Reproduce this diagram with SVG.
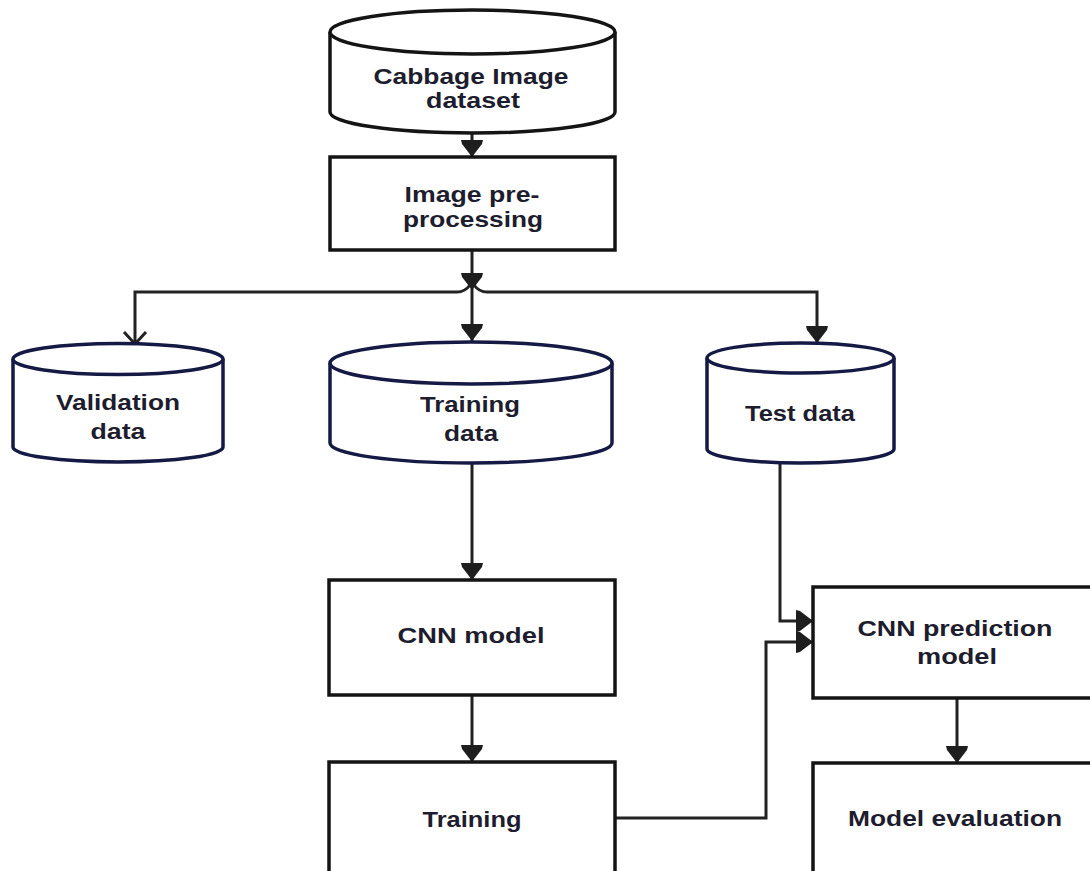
<svg xmlns="http://www.w3.org/2000/svg" width="1090" height="871" viewBox="0 0 1090 871">
  <style>
    .box { fill: #ffffff; stroke: #141414; stroke-width: 3.5; }
    .cyl { fill: #ffffff; stroke: #151a45; stroke-width: 3.5; }
    .cyl-k { fill: #ffffff; stroke: #141414; stroke-width: 3.5; }
    .lbl { font-family: "Liberation Sans", Arial, sans-serif; font-size: 21.5px; font-weight: bold; fill: #1d1d2e; text-anchor: middle; }
    .edge { fill: none; stroke: #222222; stroke-width: 3; }
  </style>
  <defs>
    <!-- filled head: 17 long, 22 wide, slightly shouldered -->
    <marker id="tri" markerUnits="userSpaceOnUse" markerWidth="19" markerHeight="24" viewBox="0 0 19 24" refX="18" refY="12" orient="auto">
      <path d="M1,1 L5,2 L18,12 L5,22 L1,23 Z" fill="#1e1e1e"/>
    </marker>
    <marker id="vee" markerUnits="userSpaceOnUse" markerWidth="16" markerHeight="26" viewBox="0 0 16 26" refX="14" refY="13" orient="auto">
      <path d="M2,2 L14,13 L2,24" fill="none" stroke="#222222" stroke-width="3"/>
    </marker>
  </defs>

  <!-- connectors -->
  <g id="connectors">
    <path class="edge" d="M472,133 L472,157" marker-end="url(#tri)"/>
    <path class="edge" d="M472,250 L472,341" marker-end="url(#tri)"/>
    <path d="M461,273 L483,273 L482,277 L472,290 L462,277 Z" fill="#1e1e1e"/>
    <path class="edge" d="M470,285 Q465,292 457,292 L135,292 L135,344" marker-end="url(#vee)"/>
    <path class="edge" d="M474,285 Q479,292 487,292 L817,292 L817,343" marker-end="url(#tri)"/>
    <path class="edge" d="M472,463 L472,580" marker-end="url(#tri)"/>
    <path class="edge" d="M472,695 L472,762" marker-end="url(#tri)"/>
    <path class="edge" d="M780,463 L780,621 L813,621" marker-end="url(#tri)"/>
    <path class="edge" d="M615,818 L766,818 L766,642 L813,642" marker-end="url(#tri)"/>
    <path class="edge" d="M957,698 L957,763" marker-end="url(#tri)"/>
  </g>

  <!-- Cabbage Image dataset -->
  <g id="dataset">
    <path class="cyl-k" d="M330,32 L330,112 A142.5,21 0 0 0 615,112 L615,32"/>
    <ellipse class="cyl-k" cx="472.5" cy="32" rx="142.5" ry="22"/>
    <text class="lbl" x="471" y="84" textLength="195" lengthAdjust="spacingAndGlyphs">Cabbage Image</text>
    <text class="lbl" x="473" y="108" textLength="94" lengthAdjust="spacingAndGlyphs">dataset</text>
  </g>

  <!-- Image pre-processing -->
  <g id="preprocessing">
    <rect class="box" x="330" y="157" width="285" height="93"/>
    <text class="lbl" x="472" y="202" textLength="135" lengthAdjust="spacingAndGlyphs">Image pre-</text>
    <text class="lbl" x="473" y="227" textLength="140" lengthAdjust="spacingAndGlyphs">processing</text>
  </g>

  <!-- Validation data -->
  <g id="validation">
    <path class="cyl" d="M13,359 L13,447 A105,15 0 0 0 223,447 L223,359"/>
    <ellipse class="cyl" cx="118" cy="359" rx="105" ry="15.5"/>
    <text class="lbl" x="118" y="410" textLength="124" lengthAdjust="spacingAndGlyphs">Validation</text>
    <text class="lbl" x="118" y="439" textLength="55" lengthAdjust="spacingAndGlyphs">data</text>
  </g>

  <!-- Training data -->
  <g id="training-data">
    <path class="cyl" d="M330,363 L330,443 A141,20 0 0 0 612,443 L612,363"/>
    <ellipse class="cyl" cx="471" cy="363" rx="141" ry="21"/>
    <text class="lbl" x="470" y="412" textLength="100" lengthAdjust="spacingAndGlyphs">Training</text>
    <text class="lbl" x="471" y="441" textLength="54" lengthAdjust="spacingAndGlyphs">data</text>
  </g>

  <!-- Test data -->
  <g id="test-data">
    <path class="cyl" d="M707,358 L707,449 A93.5,14 0 0 0 894,449 L894,358"/>
    <ellipse class="cyl" cx="800.5" cy="358" rx="93.5" ry="15"/>
    <text class="lbl" x="800" y="421" textLength="110" lengthAdjust="spacingAndGlyphs">Test data</text>
  </g>

  <!-- CNN model -->
  <g id="cnn-model">
    <rect class="box" x="329" y="580" width="286" height="115"/>
    <text class="lbl" x="471" y="643" textLength="147" lengthAdjust="spacingAndGlyphs">CNN model</text>
  </g>

  <!-- Training -->
  <g id="training">
    <rect class="box" x="329" y="762" width="286" height="130"/>
    <text class="lbl" x="472" y="827" textLength="99" lengthAdjust="spacingAndGlyphs">Training</text>
  </g>

  <!-- CNN prediction model -->
  <g id="cnn-prediction">
    <rect class="box" x="813" y="587" width="300" height="111"/>
    <text class="lbl" x="955" y="636" textLength="195" lengthAdjust="spacingAndGlyphs">CNN prediction</text>
    <text class="lbl" x="957" y="664" textLength="80" lengthAdjust="spacingAndGlyphs">model</text>
  </g>

  <!-- Model evaluation -->
  <g id="evaluation">
    <rect class="box" x="813" y="763" width="300" height="130"/>
    <text class="lbl" x="955" y="826" textLength="214" lengthAdjust="spacingAndGlyphs">Model evaluation</text>
  </g>
</svg>
